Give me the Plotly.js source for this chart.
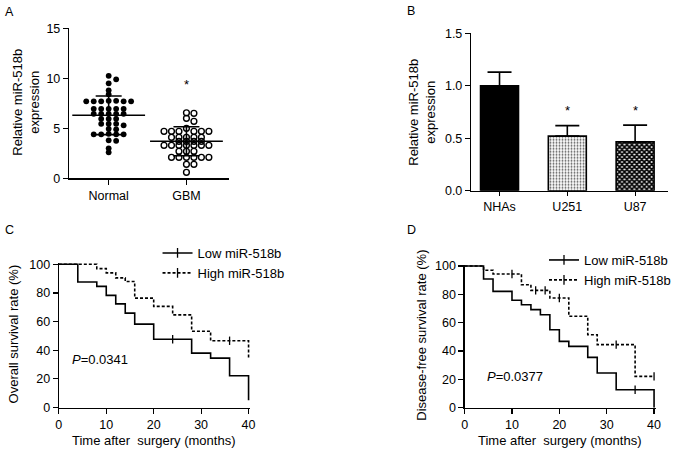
<!DOCTYPE html>
<html>
<head>
<meta charset="utf-8">
<script src="https://cdn.plot.ly/plotly-3.0.1.min.js"></script>
<style>
html,body{margin:0;padding:0;background:#fff;}
#chart{width:676px;height:452px;}
</style>
</head>
<body>
<div id="chart"></div>
<script>
// ---------------- Data ----------------
// Panel A: relative miR-518b expression in tissues
const groupsA = ['Normal', 'GBM'];
const normalExpr = [10.25, 9.9, 9.5, 8.8, 8.4,
  7.75, 7.7, 7.7, 7.7, 7.7, 7.7, 7.75,
  6.95, 6.95, 6.95, 6.95, 6.95,
  6.45, 6.45, 6.45, 6.45, 6.45,
  5.95, 5.95, 5.95,
  5.45, 5.45, 5.45, 5.3,
  4.95, 4.9,
  4.45, 4.4, 4.4, 4.4, 4.4,
  3.8, 3.75, 3.0, 2.6];
const gbmExpr = [6.55, 6.5, 6.0, 5.7, 5.0,
  4.7, 4.7, 4.7, 4.7, 4.7, 4.7,
  4.1, 4.1, 4.1, 4.1, 4.1,
  3.7, 3.7, 3.7, 3.7,
  3.3, 3.3, 3.3, 3.3, 3.3, 3.3, 3.3,
  2.7, 2.7, 2.7,
  2.1, 2.1, 2.1, 2.1, 2.1, 2.1,
  1.4, 1.4, 0.6];
const meanA = [6.3, 3.7];
const sdA = [1.93, 1.45];
const starA = [null, 9.66];

// Panel B: cell lines
const cellLines = ['NHAs', 'U251', 'U87'];
const relExprB = [1.0, 0.52, 0.465];
const sdB = [0.13, 0.10, 0.16];
const starB = [null, 0.795, 0.795];

// Panel C: overall survival (Kaplan-Meier)
const osLowT  = [0, 4, 8, 10, 12, 14, 16, 20, 28, 32, 36, 40];
const osLowS  = [100, 87.6, 84.6, 78.3, 72.4, 65.9, 58.2, 47.7, 38, 34.5, 22.2, 5.1];
const osLowCensor = [24];
const osHighT = [0, 8, 10, 12, 14, 16, 20, 24, 28, 32, 40];
const osHighS = [100, 97, 94, 90.5, 88, 76.4, 70.6, 64.7, 53.3, 46.6, 34.5];
const osHighCensor = [36];
const osP = '0.0341';

// Panel D: disease-free survival (Kaplan-Meier)
const dfsLowT  = [0, 4, 6, 10, 12, 14, 16, 18, 20, 22, 26, 28, 32, 40];
const dfsLowS  = [100, 90.8, 82.1, 75.8, 72.7, 69.2, 65.6, 55, 46.8, 43.3, 35.5, 24.5, 12.7, 0];
const dfsLowCensor = [36];
const dfsHighT = [0, 4, 6, 12, 14, 18, 22, 26, 28, 36, 40];
const dfsHighS = [100, 97, 94.4, 86.8, 82.8, 77.4, 64.5, 51.5, 44.5, 22.1, 22.1];
const dfsHighCensor = [10, 15, 17, 20, 32, 40];
const dfsP = '0.0377';

const seriesNames = ['Low miR-518b', 'High miR-518b'];

// ---------------- Layout helpers ----------------
const W = 676, H = 452;
const FONT = 'Liberation Sans, Arial, Helvetica, sans-serif';
function lin(v0, p0, v1, p1) { const k = (p1 - p0) / (v1 - v0); return v => p0 + (v - v0) * k; }
function xdom(map, r) { return [map(r[0]) / W, map(r[1]) / W]; }
function ydom(map, r) { return [1 - map(r[0]) / H, 1 - map(r[1]) / H]; }

// pixel calibrations
const axA = { xr: [-0.51, 1.55], yr: [0, 15] };
const mapAx = lin(0, 109, 1, 187), mapAy = lin(0, 178.3, 15, 28.3);
const axB = { xr: [-0.42, 2.49], yr: [0, 1.5] };
const mapBx = lin(0, 501, 1, 569), mapBy = lin(0, 190.7, 1.5, 33.3);
const axC = { xr: [0, 40.4], yr: [0, 101] };
const mapCx = lin(0, 59, 40, 249.3), mapCy = lin(0, 407.5, 100, 264.3);
const axD = { xr: [0, 40.4], yr: [0, 101] };
const mapDx = lin(0, 466, 40, 656), mapDy = lin(0, 407.7, 100, 266);

// simple beeswarm offsets (pixel based, converted to data units)
function swarm(vals, catIdx, pxPerX, pxPerY) {
  const step = 7.5, minD = 3.8;
  const order = vals.map((v, i) => i).sort((a, b) => vals[b] - vals[a]);
  const placed = [];
  const xs = new Array(vals.length);
  order.forEach(i => {
    const v = vals[i];
    for (let k = 0; k < 40; k++) {
      const m = Math.ceil(k / 2) * (k % 2 === 1 ? 1 : -1);
      const off = m * step;
      const hit = placed.some(p => Math.hypot(off - p.off, (v - p.v) * pxPerY) < minD);
      if (!hit) { placed.push({ off, v }); xs[i] = catIdx + off / pxPerX; break; }
    }
  });
  return xs;
}
function stepAt(T, S, t) { let s = S[0]; for (let i = 0; i < T.length; i++) if (T[i] <= t) s = S[i]; return s; }

const pxPerXA = 78, pxPerYA = 10;

// ---------------- Traces ----------------
const traces = [];
// Panel A dots
traces.push({
  type: 'scatter', mode: 'markers', xaxis: 'x', yaxis: 'y', showlegend: false, hoverinfo: 'y',
  x: swarm(normalExpr, 0, pxPerXA, pxPerYA), y: normalExpr, name: groupsA[0],
  marker: { symbol: 'circle', size: 5.8, color: '#000', line: { width: 0 } }, cliponaxis: false
});
traces.push({
  type: 'scatter', mode: 'markers', xaxis: 'x', yaxis: 'y', showlegend: false, hoverinfo: 'y',
  x: swarm(gbmExpr, 1, pxPerXA, pxPerYA), y: gbmExpr, name: groupsA[1],
  marker: { symbol: 'circle-open', size: 5.8, color: '#000', line: { width: 1.4, color: '#000' } }, cliponaxis: false
});
// Panel A mean +/- SD
traces.push({
  type: 'scatter', mode: 'markers', xaxis: 'x', yaxis: 'y', showlegend: false, hoverinfo: 'y',
  x: [0, 1], y: meanA,
  marker: { symbol: 'line-ew-open', size: 52, color: '#000', line: { width: 1.6, color: '#000' } },
  error_y: { type: 'data', array: sdA, color: '#000', thickness: 1.6, width: 13 }
});
// Panel B bars: one trace per cell line so each gets its own fill pattern
const barFill = [
  { color: '#000' },
  { color: '#fff', pattern: { shape: '.', fgcolor: '#555', bgcolor: '#fff', size: 3, solidity: 0.3, fillmode: 'replace' } },
  { color: '#fff', pattern: { shape: 'x', fgcolor: '#000', bgcolor: '#fff', size: 3.5, solidity: 0.75, fillmode: 'replace' } }
];
cellLines.forEach((c, i) => {
  traces.push({
    type: 'bar', xaxis: 'x2', yaxis: 'y2', showlegend: false, name: c,
    x: [i], y: [relExprB[i]], width: 0.56,
    marker: Object.assign({ line: { color: '#000', width: 1.6 } }, barFill[i]),
    error_y: { type: 'data', symmetric: false, array: [sdB[i]], arrayminus: [0], color: '#000', thickness: 1.6, width: 12 }
  });
});

// Kaplan-Meier helper
function km(T, S, censor, dash, xa, ya) {
  traces.push({
    type: 'scatter', mode: 'lines', xaxis: xa, yaxis: ya, showlegend: false,
    x: T, y: S, line: { shape: 'hv', color: '#000', width: 1.6, dash: dash }
  });
  traces.push({
    type: 'scatter', mode: 'markers', xaxis: xa, yaxis: ya, showlegend: false, cliponaxis: false,
    x: censor, y: censor.map(t => stepAt(T, S, t)),
    marker: { symbol: 'line-ns-open', size: 6, color: '#000', line: { width: 1.3, color: '#000' } }
  });
}
km(osLowT, osLowS, osLowCensor, 'solid', 'x3', 'y3');
km(osHighT, osHighS, osHighCensor, '3px,2px', 'x3', 'y3');
km(dfsLowT, dfsLowS, dfsLowCensor, 'solid', 'x4', 'y4');
km(dfsHighT, dfsHighS, dfsHighCensor, '3px,2px', 'x4', 'y4');

// legend entries
[['legend', 'x3', 'y3'], ['legend2', 'x4', 'y4']].forEach(([lg, xa, ya]) => {
  seriesNames.forEach((nm, i) => {
    traces.push({
      type: 'scatter', mode: 'lines+markers', xaxis: xa, yaxis: ya, legend: lg, name: nm,
      x: [null], y: [null],
      line: { color: '#000', width: 1.6, dash: i === 0 ? 'solid' : '3px,2px' },
      marker: { symbol: 'line-ns-open', size: 7, color: '#000', line: { width: 1.3, color: '#000' } }
    });
  });
});

// ---------------- Axes ----------------
const base = {
  showline: true, linecolor: '#000', linewidth: 1.2, showgrid: false, zeroline: false,
  ticks: 'outside', ticklen: 5, tickwidth: 1.2, tickcolor: '#000',
  tickfont: { family: FONT, size: 12.5, color: '#000' }, fixedrange: true
};
const layout = {
  width: W, height: H, margin: { l: 0, r: 0, t: 0, b: 0 },
  paper_bgcolor: '#fff', plot_bgcolor: 'rgba(0,0,0,0)',
  font: { family: FONT, size: 13, color: '#000' },
  showlegend: true, barmode: 'overlay',
  xaxis: Object.assign({}, base, { domain: xdom(mapAx, axA.xr), range: axA.xr, anchor: 'y',
    tickvals: [0, 1], ticktext: groupsA }),
  yaxis: Object.assign({}, base, { domain: ydom(mapAy, axA.yr), range: axA.yr, anchor: 'x', dtick: 5 }),
  xaxis2: Object.assign({}, base, { domain: xdom(mapBx, axB.xr), range: axB.xr, anchor: 'y2',
    tickvals: [0, 1, 2], ticktext: cellLines, ticklen: 4 }),
  yaxis2: Object.assign({}, base, { domain: ydom(mapBy, axB.yr), range: axB.yr, anchor: 'x2',
    dtick: 0.5, tickformat: '.1f' }),
  xaxis3: Object.assign({}, base, { domain: xdom(mapCx, axC.xr), range: axC.xr, anchor: 'y3',
    tickvals: [0, 10, 20, 30, 40] }),
  yaxis3: Object.assign({}, base, { domain: ydom(mapCy, axC.yr), range: axC.yr, anchor: 'x3',
    tickvals: [0, 20, 40, 60, 80, 100] }),
  xaxis4: Object.assign({}, base, { domain: xdom(mapDx, axD.xr), range: axD.xr, anchor: 'y4',
    tickvals: [0, 10, 20, 30, 40] }),
  yaxis4: Object.assign({}, base, { domain: ydom(mapDy, axD.yr), range: axD.yr, anchor: 'x4',
    tickvals: [0, 20, 40, 60, 80, 100] }),
  legend: { x: 158 / W, y: 1 - 238 / H, xanchor: 'left', yanchor: 'top', bgcolor: 'rgba(0,0,0,0)',
    borderwidth: 0, font: { family: FONT, size: 13, color: '#000' }, tracegroupgap: 0 },
  legend2: { x: 546 / W, y: 1 - 245 / H, xanchor: 'left', yanchor: 'top', bgcolor: 'rgba(0,0,0,0)',
    borderwidth: 0, font: { family: FONT, size: 13, color: '#000' }, tracegroupgap: 0 },
  annotations: []
};

const ann = layout.annotations;
function paperText(text, xpx, ypx, opts) {
  ann.push(Object.assign({ text, xref: 'paper', yref: 'paper', x: xpx / W, y: 1 - ypx / H,
    showarrow: false, xanchor: 'center', yanchor: 'middle', font: { family: FONT, size: 13, color: '#000' } }, opts || {}));
}
// panel letters
paperText('A', 10, 12, { font: { family: FONT, size: 12.5, color: '#000' } });
paperText('B', 412, 11, { font: { family: FONT, size: 12.5, color: '#000' } });
paperText('C', 10, 230, { font: { family: FONT, size: 12.5, color: '#000' } });
paperText('D', 413, 230, { font: { family: FONT, size: 12.5, color: '#000' } });
// axis titles
paperText('Relative miR-518b<br>expression', 25.8, 102, { textangle: -90 });
paperText('Relative miR-518b<br>expression', 423, 112, { textangle: -90 });
paperText('Overall survival rate (%)', 13.5, 334, { textangle: -90 });
paperText('Disease-free survival rate (%)', 422, 335, { textangle: -90 });
paperText('Time after\u00a0 surgery (months)', 154, 440);
paperText('Time after\u00a0 surgery (months)', 562, 440);

// asterisks (data coordinates)
starA.forEach((v, i) => { if (v !== null) ann.push({ text: '*', xref: 'x', yref: 'y', x: i, y: v - 0.3,
  showarrow: false, font: { family: FONT, size: 13, color: '#000' } }); });
starB.forEach((v, i) => { if (v !== null) ann.push({ text: '*', xref: 'x2', yref: 'y2', x: i, y: v - 0.03,
  showarrow: false, font: { family: FONT, size: 13, color: '#000' } }); });
// P values
ann.push({ text: '<i>P</i>=' + osP, xref: 'x3', yref: 'y3', x: 2.3, y: 33.3, xanchor: 'left', yanchor: 'middle',
  showarrow: false, font: { family: FONT, size: 13, color: '#000' } });
ann.push({ text: '<i>P</i>=' + dfsP, xref: 'x4', yref: 'y4', x: 4.4, y: 22.2, xanchor: 'left', yanchor: 'middle',
  showarrow: false, font: { family: FONT, size: 13, color: '#000' } });

Plotly.newPlot('chart', traces, layout, { displayModeBar: false, staticPlot: true });
</script>
</body>
</html>
